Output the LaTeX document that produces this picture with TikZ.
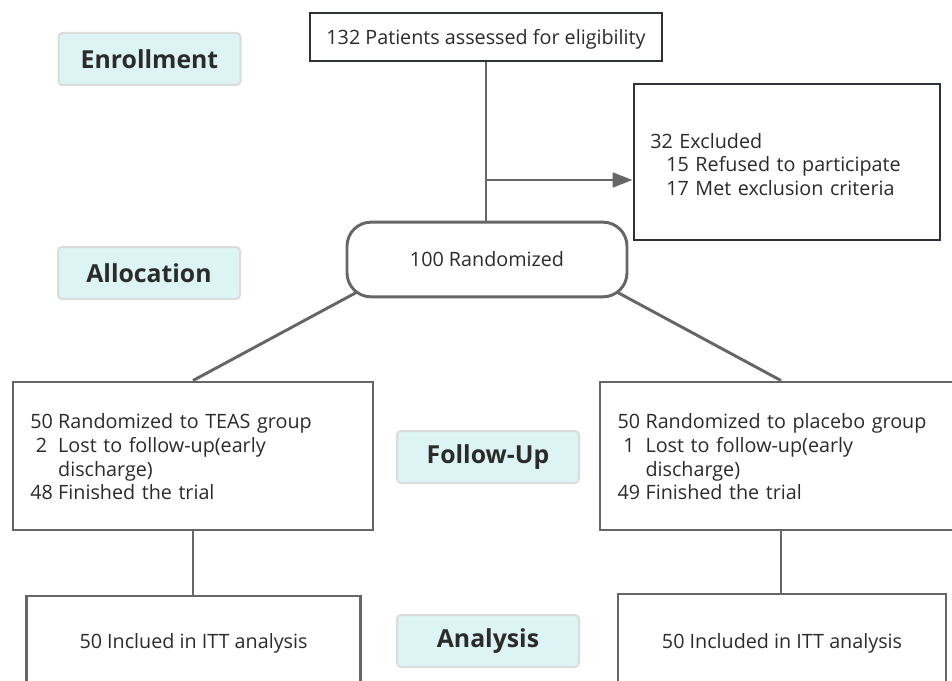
\documentclass[tikz,border=0pt]{standalone}
\usepackage{fontspec}
\setmainfont{Open Sans}
\usetikzlibrary{arrows.meta,calc}
\definecolor{darkline}{HTML}{2E3238}
\definecolor{greyline}{HTML}{666666}
\definecolor{stagefill}{HTML}{DDF4F4}
\definecolor{stageedge}{HTML}{DCDCDC}
\definecolor{inktext}{HTML}{2B2B2B}
\pgfdeclarelayer{background}
\pgfsetlayers{background,main}
\tikzset{
  flowbox/.style={draw=greyline,line width=2.2pt,fill=white,text=inktext,
    font=\fontsize{14.8}{17.7}\selectfont},
  keybox/.style={flowbox,draw=darkline},
  nodepth/.style={text depth=0pt},
  stagebox/.style={draw=stageedge,line width=1.5pt,fill=stagefill,rounded corners=3pt,
    text=inktext,font=\fontsize{18.6}{20}\selectfont\bfseries,
    minimum width=136.5pt,minimum height=39pt},
  link/.style={draw=greyline,line width=2.2pt}
}
\begin{document}
\begin{tikzpicture}[x=0.75pt,y=0.75pt,yscale=-1,xscale=1]
			\clip (0,0) rectangle (952,681);

			% Stage labels
			\node[stagebox] (enrol) at (149.5,59) {Enrollment};
			\node[stagebox] (alloc) at (149,273) {Allocation};
			\node[stagebox] (follow) at (488,457) {Follow-Up};
			\node[stagebox] (analys) at (488,641) {Analysis};

			% Assessment
			\node[keybox,nodepth,minimum width=264pt,minimum height=36pt] (assess) at (486,37) {132 Patients assessed for eligibility};
			% Excluded
			\node[keybox,minimum width=229.5pt,minimum height=117pt,text width=205pt,inner xsep=12pt,align=left] (excl) at (787,162)
			  {\rule{0pt}{15pt}32 Excluded\\\hspace*{12pt}15 Refused to participate\\\hspace*{12pt}17 Met exclusion criteria};
			% Randomized
			\node[flowbox,nodepth,rounded corners=18pt,minimum width=210pt,minimum height=56pt] (rand) at (487,259.5) {100 Randomized};

			% Groups
			\node[flowbox,nodepth,minimum width=270pt,minimum height=111pt,text width=244pt,inner xsep=13pt,align=left] (teas) at (193,456)
			  {\begin{tabular}[b]{@{}c@{\hspace{4pt}}l@{}}
			    50 & Randomized to TEAS group\\
			    2 & Lost to follow-up(early\\
			      & discharge)\\
			    48 & Finished the trial
			  \end{tabular}};
			\node[flowbox,nodepth,minimum width=271.5pt,minimum height=111pt,text width=245pt,inner xsep=13pt,align=left] (placebo) at (781,456)
			  {\begin{tabular}[b]{@{}c@{\hspace{4pt}}l@{}}
			    50 & Randomized to placebo group\\
			    1 & Lost to follow-up(early\\
			      & discharge)\\
			    49 & Finished the trial
			  \end{tabular}};

			% Analysis boxes
			\node[flowbox,nodepth,minimum width=250pt,minimum height=67.5pt] (ittL) at (193.5,641) {50 Inclued in ITT analysis};
			\node[flowbox,nodepth,minimum width=246pt,minimum height=70.5pt] (ittR) at (782,641) {50 Included in ITT analysis};

			% Connectors
			\coordinate (split) at (487,180);
			\begin{pgfonlayer}{background}
			\fill[white] (0,0) rectangle (952,681);
			\draw[link] (teas.north) -- ($(rand.south west)!-0.3!(teas.north)$);
			\draw[link] (placebo.north) -- ($(rand.south east)!-0.3!(placebo.north)$);
			\end{pgfonlayer}
			\draw[link] (assess.south) -- (assess.south |- rand.north);
			\draw[link,-{Triangle[length=15pt,width=11pt]}] (split) -- (split -| excl.west);
			\draw[link] (teas.south) -- (teas.south |- ittL.north);
			\draw[link] (placebo.south) -- (placebo.south |- ittR.north);

		\end{tikzpicture}
\end{document}
